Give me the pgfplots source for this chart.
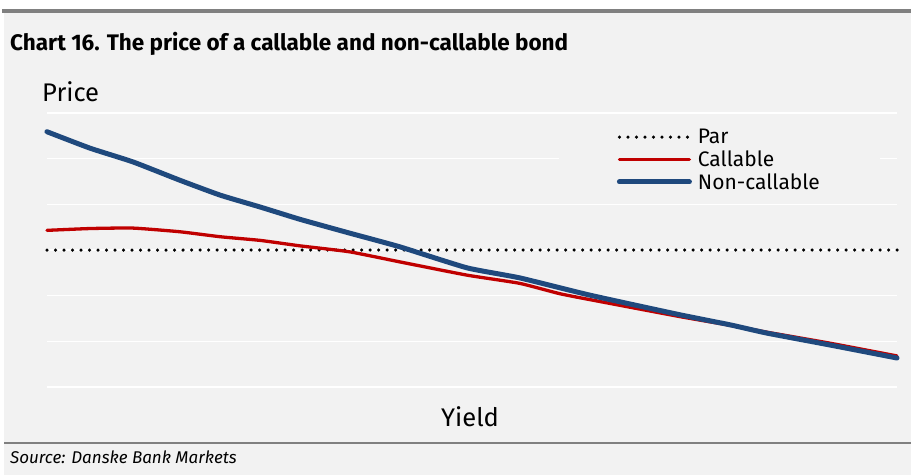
\documentclass[border=0pt]{standalone}
\usepackage{fontspec}
\setmainfont{Fira Sans}
\usepackage{pgfplots}
\pgfplotsset{compat=1.18}
\definecolor{bg}{HTML}{F2F2F2}
\definecolor{bar}{HTML}{808080}
\definecolor{ncblue}{HTML}{1F497D}
\definecolor{cred}{HTML}{C00000}
\begin{document}
\begin{tikzpicture}[x=1pt,y=1pt]
\fill[white] (0,0) rectangle (911,475);
\fill[bg] (4,0) rectangle (911,466);
\fill[bar] (2,462) rectangle (911,466);
\fill[bar] (4,31) rectangle (911,33);
\node[anchor=west, inner sep=0pt, font=\bfseries\fontsize{22.5}{26}\selectfont] at (10,431) {Chart 16. The price of a callable and non-callable bond};
\node[anchor=west, inner sep=0pt, font=\itshape\fontsize{17}{20}\selectfont] at (10,18) {Source: Danske Bank Markets};
\node[anchor=west, inner sep=0pt, font=\fontsize{25.5}{29}\selectfont] at (42,383) {Price};
\node[anchor=center, inner sep=0pt, font=\fontsize{25.5}{29}\selectfont] at (470,58) {Yield};
\begin{axis}[
  at={(47pt,88pt)}, anchor=south west,
  scale only axis, width=850pt, height=274pt,
  xmin=0, xmax=100, ymin=0, ymax=6,
  xtick=\empty, ytick={0,1,2,3,4,5,6}, yticklabels={},
  major tick length=0pt,
  ymajorgrids, grid style={white, line width=1.5pt},
  axis line style={draw=none},
  clip=false,
  legend cell align=left,
  legend image code/.code={\draw[#1] (0pt,0pt) -- (70pt,0pt);},
  legend style={at={(0.602,0.982)}, anchor=north west, fill=bg, draw=none,
    font=\fontsize{21}{24}\selectfont, inner xsep=58pt, inner ysep=9pt, row sep=1.5pt,
    /tikz/every odd column/.append style={column sep=4pt}},
]
\addplot[black, line width=3.5pt, line cap=round, dash pattern=on 0pt off 8.5pt] coordinates {(0,3) (100,3)};
\addlegendentry{Par}
\addplot[cred, line width=3.3pt, line cap=round, smooth, tension=0.3] coordinates {
(0,3.43) (5.06,3.47) (10.1,3.48) (15.6,3.40) (20.4,3.29) (25.1,3.21) (29.8,3.09)
(35.6,2.96) (41.5,2.74) (49.4,2.45) (55.6,2.27) (60.4,2.04) (65.1,1.87)
(74.5,1.54) (80.4,1.35) (84.7,1.20) (92.1,0.96) (100,0.68)};
\addlegendentry{Callable}
\addplot[ncblue, line width=5pt, line cap=round, smooth, tension=0.3] coordinates {
(0,5.59) (5.06,5.23) (10.1,4.93) (15.6,4.53) (20.4,4.20) (25.1,3.94) (29.8,3.67)
(35.6,3.37) (41.5,3.07) (49.4,2.61) (55.6,2.39) (63.9,2.01)
(74.5,1.58) (80.4,1.36) (84.7,1.18) (92.1,0.92) (100,0.635)};
\addlegendentry{Non-callable}
\end{axis}
\end{tikzpicture}
\end{document}
